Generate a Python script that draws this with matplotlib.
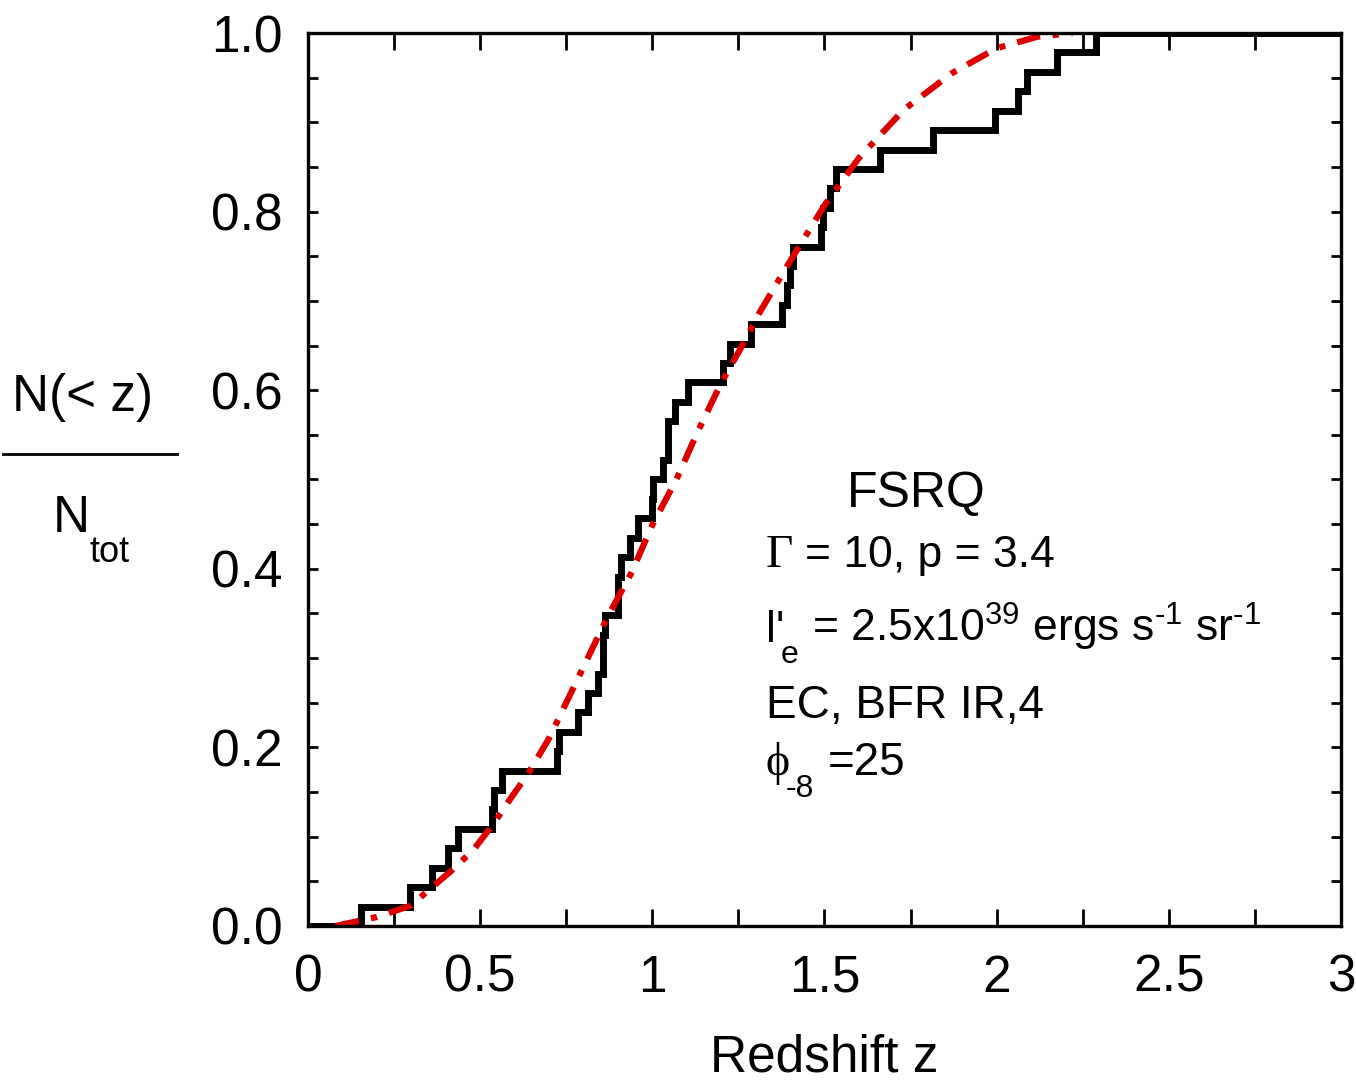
import matplotlib
matplotlib.use("Agg")
import matplotlib.pyplot as plt
import numpy as np
from matplotlib.ticker import MultipleLocator

plt.rcParams['font.family'] = ['Liberation Sans', 'DejaVu Sans']
plt.rcParams['mathtext.fontset'] = 'custom'
plt.rcParams['mathtext.rm'] = 'Liberation Sans'
plt.rcParams['mathtext.it'] = 'Liberation Sans'

# observed redshifts (one per source, sorted)
z_obs = [0.154, 0.296, 0.36, 0.407, 0.435, 0.535, 0.54, 0.563, 0.723, 0.728,
         0.784, 0.813, 0.842, 0.857, 0.857, 0.862, 0.90, 0.90, 0.91, 0.935,
         0.958, 0.998, 1.002, 1.032, 1.045, 1.045, 1.066, 1.105, 1.206, 1.225,
         1.288, 1.376, 1.39, 1.40, 1.408, 1.49, 1.495, 1.516, 1.535, 1.66,
         1.815, 1.995, 2.063, 2.087, 2.175, 2.29]

# model curve
z_mod = [0.08, 0.2, 0.3, 0.35, 0.42, 0.48, 0.54, 0.58, 0.64, 0.7, 0.8, 0.87,
         0.94, 1.0, 1.07, 1.13, 1.2, 1.27, 1.31, 1.39, 1.5, 1.6, 1.73, 1.87,
         2.0, 2.12, 2.22]
n_mod = [0.0, 0.01, 0.023, 0.04, 0.063, 0.085, 0.115, 0.138, 0.171, 0.21,
         0.29, 0.346, 0.396, 0.449, 0.5, 0.552, 0.608, 0.656, 0.686, 0.738,
         0.807, 0.86, 0.914, 0.955, 0.983, 0.996, 1.0]

ntot = len(z_obs)
frac = np.arange(1, ntot + 1) / ntot

fig = plt.figure(figsize=(13.56, 10.83), dpi=100)
ax = fig.add_axes([0.2271, 0.1450, 0.7618, 0.8245])

ax.step(np.r_[0, z_obs, 3], np.r_[0, frac, 1], where='post', color='black',
        lw=5, solid_joinstyle='miter')
ax.plot(z_mod, n_mod, color='#dd0000', lw=4.5, linestyle=(0, (3.8, 2, 1, 2)))

ax.set_xlim(0, 3)
ax.set_ylim(0, 1)
ax.xaxis.set_minor_locator(MultipleLocator(0.25))
ax.yaxis.set_minor_locator(MultipleLocator(0.05))
ax.set_xticks([0, 0.5, 1, 1.5, 2, 2.5, 3])
ax.set_xticklabels(['0', '0.5', '1', '1.5', '2', '2.5', '3'])
ax.set_yticks([0, 0.2, 0.4, 0.6, 0.8, 1.0])
ax.set_yticklabels(['0.0', '0.2', '0.4', '0.6', '0.8', '1.0'])
ax.tick_params(axis='x', which='both', direction='in', top=True, length=12,
               width=2, labelsize=37, pad=20)
ax.tick_params(axis='y', which='both', direction='in', right=True, length=7,
               width=2, labelsize=37, pad=18)
for s in ax.spines.values():
    s.set_linewidth(2.4)

ax.set_xlabel('Redshift z', fontsize=37, labelpad=22)

# y label as a fraction
fig.text(82 / 1356, 1 - 397 / 1083, 'N(< z)', fontsize=37, ha='center', va='center')
fig.add_artist(plt.Line2D([3 / 1356, 177 / 1356], [1 - 454 / 1083] * 2,
                          color='black', lw=2))
fig.text(71 / 1356, 1 - 518 / 1083, 'N', fontsize=37, ha='center', va='center')
fig.text(89 / 1356, 1 - 562 / 1083, 'tot', fontsize=26, ha='left', va='baseline')

# annotation
kw = dict(transform=ax.transAxes, va='baseline')
serif = ['Liberation Serif', 'DejaVu Serif']
ax.text(0.522, 0.469, 'FSRQ', fontsize=36, **kw)
ax.text(0.443, 0.402, 'Γ', fontsize=34, family=serif, **kw)
ax.text(0.481, 0.402, '= 10, p = 3.4', fontsize=32, **kw)
ax.text(0.443, 0.318, "l'", fontsize=32, **kw)
ax.text(0.458, 0.2945, 'e', fontsize=23, **kw)
ax.text(0.488, 0.318,
        r"= 2.5x10$^{39}$ ergs s$^{\text{-1}}$ sr$^{\text{-1}}$",
        fontsize=32, **kw)
ax.text(0.443, 0.233, 'EC, BFR IR,4', fontsize=33, **kw)
ax.text(0.443, 0.169, 'ϕ', fontsize=33, family=serif, **kw)
ax.text(0.462, 0.1445, '-8', fontsize=23, **kw)
ax.text(0.503, 0.169, '=25', fontsize=33, **kw)

fig.savefig('out.png', dpi=100)
